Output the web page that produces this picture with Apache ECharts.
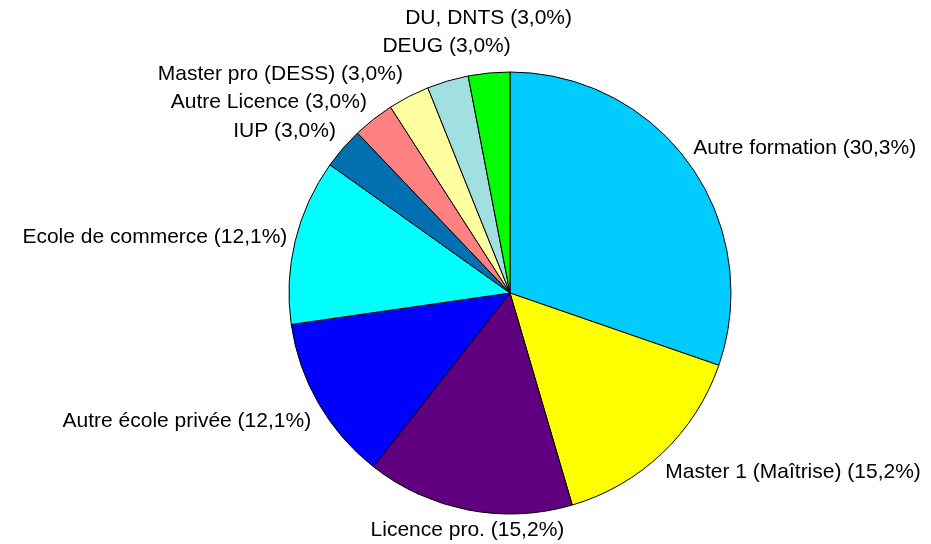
<!DOCTYPE html>
<html>
<head>
<meta charset="utf-8">
<script src="https://cdn.jsdelivr.net/npm/echarts@6/dist/echarts.min.js"></script>
<style>
html, body { margin: 0; padding: 0; background: #fff; }
#chart { width: 931px; height: 544px; }
</style>
</head>
<body>
<div id="chart"></div>
<script>
// categories and counts (33 answers)
var categories = [
	"Autre formation",
	"Master 1 (Maîtrise)",
	"Licence pro.",
	"Autre école privée",
	"Ecole de commerce",
	"IUP",
	"Autre Licence",
	"Master pro (DESS)",
	"DEUG",
	"DU, DNTS"
];
var counts = [10, 5, 5, 4, 4, 1, 1, 1, 1, 1];
var colors = ["#00CCFF", "#FFFF00", "#600080", "#0000FF", "#00FFFF",
	"#0070B0", "#FF8080", "#FFFFA0", "#A0E0E0", "#00FF00"];

// geometry of the pie
var cx = 510, cy = 293, R = 221;
var gap = 4, rowGap = 28;

/*
**labels placed like a spreadsheet: box touching a point just outside the slice
*/
function clamp(v, a, b) { return Math.max(a, Math.min(b, v)); }
var total = counts.reduce(function (a, b) { return a + b; }, 0);
var labelPos = [];
var start = 90;
counts.forEach(function (c, i) {
	var span = c / total * 360;
	var mid = (start - span / 2) * Math.PI / 180;
	start -= span;
	var cos = Math.cos(mid), sin = Math.sin(mid);
	var s = Math.min(1, Math.pow(Math.abs(sin) / 0.5, 2));
	labelPos.push({
		i: i,
		cos: cos,
		sin: sin,
		px: cx + (R + gap) * cos,
		y: cy - (R + gap) * sin + (sin < 0 ? 16 : -14) * s,
		f: (cos < 0 ? -1 : 1) * clamp((Math.abs(cos) - 0.3) / 0.15, 0, 1)
	});
});
// push labels apart, away from the horizontal middle
[true, false].forEach(function (right) {
	var side = labelPos.filter(function (p) { return (p.cos >= 0) === right; });
	var up = side.filter(function (p) { return p.sin > 0; }).sort(function (a, b) { return b.y - a.y; });
	var down = side.filter(function (p) { return p.sin <= 0; }).sort(function (a, b) { return a.y - b.y; });
	for (var k = 1; k < up.length; k++) up[k].y = Math.min(up[k].y, up[k - 1].y - rowGap);
	for (var k = 1; k < down.length; k++) down[k].y = Math.max(down[k].y, down[k - 1].y + rowGap);
});

var myChart = echarts.init(document.getElementById("chart"));
myChart.setOption({
	backgroundColor: "#fff",
	animation: false,
	series: [{
		type: "pie",
		center: [cx, cy],
		radius: R,
		startAngle: 90,
		clockwise: true,
		avoidLabelOverlap: false,
		data: categories.map(function (name, i) {
			return { name: name, value: counts[i], itemStyle: { color: colors[i] } };
		}),
		itemStyle: { borderColor: "#000", borderWidth: 1 },
		label: {
			show: true,
			position: "outside",
			fontFamily: "Liberation Sans, Arial, sans-serif",
			fontSize: 21,
			color: "#000",
			formatter: function (p) {
				return p.name + " (" + p.percent.toFixed(1).replace(".", ",") + "%)";
			}
		},
		labelLine: { show: false, length: 4, length2: 0 },
		labelLayout: function (params) {
			var p = labelPos[params.dataIndex];
			var w = params.labelRect.width;
			return {
				x: p.px + p.f * w / 2 - (p.f < 0 ? 4 * -p.f : 0),
				y: p.y,
				align: "center",
				verticalAlign: "middle"
			};
		},
		emphasis: { disabled: true }
	}]
});
</script>
</body>
</html>
